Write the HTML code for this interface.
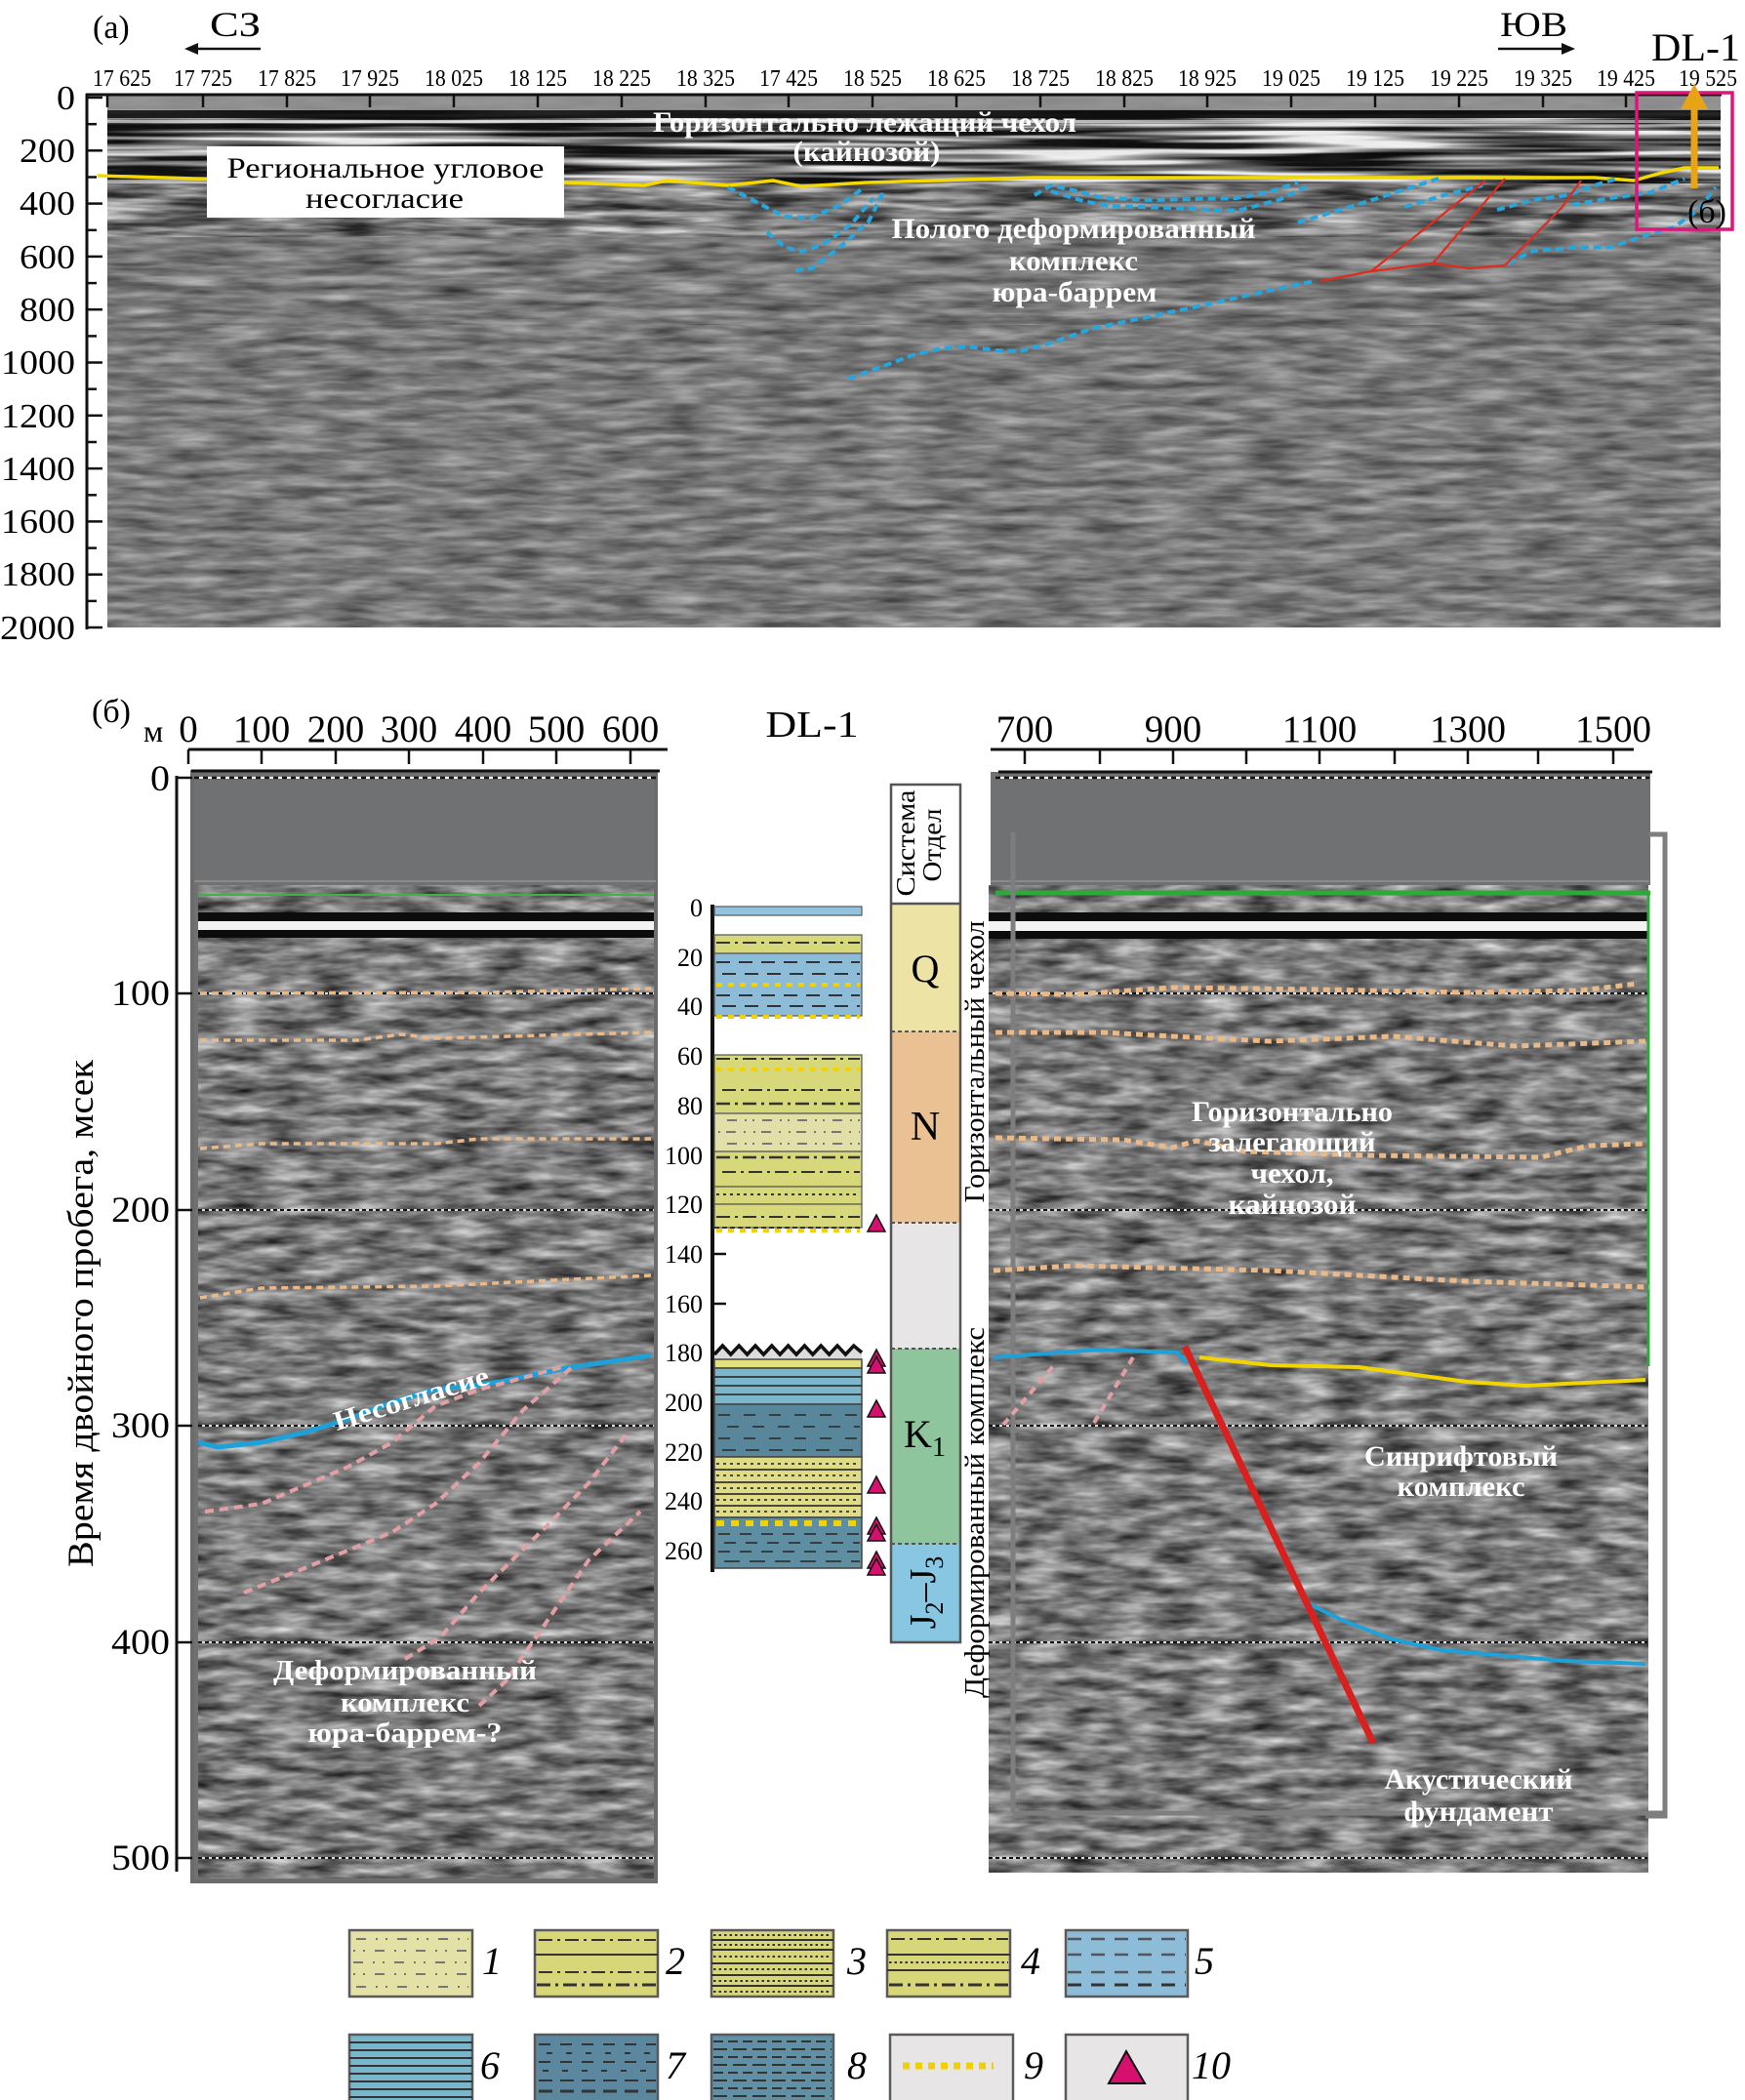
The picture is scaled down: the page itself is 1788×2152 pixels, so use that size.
<!DOCTYPE html>
<html><head><meta charset="utf-8"><style>html,body{margin:0;padding:0;background:#fff}svg{display:block}</style></head>
<body>
<svg width="1788" height="2152" viewBox="0 0 1788 2152" xmlns="http://www.w3.org/2000/svg" font-family="'Liberation Serif', serif">
<defs>
<filter id="nLow" x="0" y="0" width="1" height="1" color-interpolation-filters="sRGB">
<feTurbulence type="fractalNoise" baseFrequency="0.018 0.11" numOctaves="3" seed="5"/>
<feColorMatrix type="matrix" values="0.55 0 0 0 0.205 0.55 0 0 0 0.205 0.55 0 0 0 0.205 0 0 0 0 1"/>
</filter>
<filter id="nBand" x="0" y="0" width="1" height="1" color-interpolation-filters="sRGB">
<feTurbulence type="fractalNoise" baseFrequency="0.004 0.15" numOctaves="2" seed="8"/>
<feColorMatrix type="matrix" values="3 0 0 0 -1.08 3 0 0 0 -1.08 3 0 0 0 -1.08 0 0 0 0 1"/>
</filter>
<filter id="nMid" x="0" y="0" width="1" height="1" color-interpolation-filters="sRGB">
<feTurbulence type="fractalNoise" baseFrequency="0.012 0.12" numOctaves="3" seed="3"/>
<feColorMatrix type="matrix" values="1.7 0 0 0 -0.39 1.7 0 0 0 -0.39 1.7 0 0 0 -0.39 0 0 0 0 1"/>
</filter>
<filter id="nB" x="0" y="0" width="1" height="1" color-interpolation-filters="sRGB">
<feTurbulence type="fractalNoise" baseFrequency="0.022 0.09" numOctaves="3" seed="11"/>
<feColorMatrix type="matrix" values="0.9 0 0 0 0.03 0.9 0 0 0 0.03 0.9 0 0 0 0.03 0 0 0 0 1"/>
</filter>
<filter id="nB2" x="0" y="0" width="1" height="1" color-interpolation-filters="sRGB">
<feTurbulence type="fractalNoise" baseFrequency="0.022 0.09" numOctaves="3" seed="17"/>
<feColorMatrix type="matrix" values="0.9 0 0 0 0.03 0.9 0 0 0 0.03 0.9 0 0 0 0.03 0 0 0 0 1"/>
</filter>
</defs>
<rect width="1788" height="2152" fill="#fff"/>

<!-- ================= PART (a) ================= -->
<text x="95" y="39" font-size="34">(a)</text>
<text x="215" y="37" font-size="36" textLength="52" lengthAdjust="spacingAndGlyphs">СЗ</text>
<line x1="197" y1="50" x2="267" y2="50" stroke="#111" stroke-width="2.5"/>
<polygon points="189,50 203,44 203,56" fill="#111"/>
<text x="1537" y="37" font-size="36" textLength="69" lengthAdjust="spacingAndGlyphs">ЮВ</text>
<line x1="1535" y1="50" x2="1604" y2="50" stroke="#111" stroke-width="2.5"/>
<polygon points="1614,50 1600,44 1600,56" fill="#111"/>
<text x="1692" y="62" font-size="40" textLength="91" lengthAdjust="spacingAndGlyphs">DL-1</text>

<g font-size="24" text-anchor="middle">
<text x="125" y="88" textLength="60" lengthAdjust="spacingAndGlyphs">17 625</text>
<text x="208" y="88" textLength="60" lengthAdjust="spacingAndGlyphs">17 725</text>
<text x="294" y="88" textLength="60" lengthAdjust="spacingAndGlyphs">17 825</text>
<text x="379" y="88" textLength="60" lengthAdjust="spacingAndGlyphs">17 925</text>
<text x="465" y="88" textLength="60" lengthAdjust="spacingAndGlyphs">18 025</text>
<text x="551" y="88" textLength="60" lengthAdjust="spacingAndGlyphs">18 125</text>
<text x="637" y="88" textLength="60" lengthAdjust="spacingAndGlyphs">18 225</text>
<text x="723" y="88" textLength="60" lengthAdjust="spacingAndGlyphs">18 325</text>
<text x="808" y="88" textLength="60" lengthAdjust="spacingAndGlyphs">17 425</text>
<text x="894" y="88" textLength="60" lengthAdjust="spacingAndGlyphs">18 525</text>
<text x="980" y="88" textLength="60" lengthAdjust="spacingAndGlyphs">18 625</text>
<text x="1066" y="88" textLength="60" lengthAdjust="spacingAndGlyphs">18 725</text>
<text x="1152" y="88" textLength="60" lengthAdjust="spacingAndGlyphs">18 825</text>
<text x="1237" y="88" textLength="60" lengthAdjust="spacingAndGlyphs">18 925</text>
<text x="1323" y="88" textLength="60" lengthAdjust="spacingAndGlyphs">19 025</text>
<text x="1409" y="88" textLength="60" lengthAdjust="spacingAndGlyphs">19 125</text>
<text x="1495" y="88" textLength="60" lengthAdjust="spacingAndGlyphs">19 225</text>
<text x="1581" y="88" textLength="60" lengthAdjust="spacingAndGlyphs">19 325</text>
<text x="1666" y="88" textLength="60" lengthAdjust="spacingAndGlyphs">19 425</text>
<text x="1750" y="88" textLength="60" lengthAdjust="spacingAndGlyphs">19 525</text>
</g>

<!-- seismic (a) -->
<rect x="110" y="98" width="1653" height="545" filter="url(#nLow)"/>
<rect x="110" y="112" width="1653" height="76" filter="url(#nBand)" opacity="0.85"/>
<rect x="110" y="188" width="1653" height="55" filter="url(#nMid)" opacity="0.65"/>
<rect x="110" y="243" width="1653" height="90" filter="url(#nMid)" opacity="0.25"/>
<rect x="110" y="98" width="1653" height="15" fill="#939393" opacity="0.85"/>
<rect x="110" y="113" width="1653" height="8" fill="#101010" opacity="0.9"/>
<rect x="110" y="123" width="1653" height="3" fill="#f0f0f0" opacity="0.6"/>
<rect x="110" y="131" width="1653" height="3" fill="#111" opacity="0.5"/>

<!-- axes (a) -->
<line x1="88" y1="97" x2="1764" y2="97" stroke="#111" stroke-width="3"/>
<g stroke="#111" stroke-width="2.5">
<line x1="110" y1="97" x2="110" y2="110"/><line x1="208" y1="97" x2="208" y2="110"/><line x1="294" y1="97" x2="294" y2="110"/><line x1="379" y1="97" x2="379" y2="110"/><line x1="465" y1="97" x2="465" y2="110"/><line x1="551" y1="97" x2="551" y2="110"/><line x1="637" y1="97" x2="637" y2="110"/><line x1="723" y1="97" x2="723" y2="110"/><line x1="808" y1="97" x2="808" y2="110"/><line x1="894" y1="97" x2="894" y2="110"/><line x1="980" y1="97" x2="980" y2="110"/><line x1="1066" y1="97" x2="1066" y2="110"/><line x1="1152" y1="97" x2="1152" y2="110"/><line x1="1237" y1="97" x2="1237" y2="110"/><line x1="1323" y1="97" x2="1323" y2="110"/><line x1="1409" y1="97" x2="1409" y2="110"/><line x1="1495" y1="97" x2="1495" y2="110"/><line x1="1581" y1="97" x2="1581" y2="110"/><line x1="1666" y1="97" x2="1666" y2="110"/>
</g>
<line x1="89" y1="96" x2="89" y2="645" stroke="#111" stroke-width="3"/>
<g stroke="#111" stroke-width="2.5">
<line x1="89" y1="100" x2="105" y2="100"/><line x1="89" y1="154.3" x2="105" y2="154.3"/><line x1="89" y1="208.6" x2="105" y2="208.6"/><line x1="89" y1="262.9" x2="105" y2="262.9"/><line x1="89" y1="317.2" x2="105" y2="317.2"/><line x1="89" y1="371.5" x2="105" y2="371.5"/><line x1="89" y1="425.8" x2="105" y2="425.8"/><line x1="89" y1="480.1" x2="105" y2="480.1"/><line x1="89" y1="534.4" x2="105" y2="534.4"/><line x1="89" y1="588.7" x2="105" y2="588.7"/><line x1="89" y1="643" x2="105" y2="643"/>
<line x1="89" y1="127.2" x2="99" y2="127.2"/><line x1="89" y1="181.5" x2="99" y2="181.5"/><line x1="89" y1="235.8" x2="99" y2="235.8"/><line x1="89" y1="290.1" x2="99" y2="290.1"/><line x1="89" y1="344.4" x2="99" y2="344.4"/><line x1="89" y1="398.7" x2="99" y2="398.7"/><line x1="89" y1="453" x2="99" y2="453"/><line x1="89" y1="507.3" x2="99" y2="507.3"/><line x1="89" y1="561.6" x2="99" y2="561.6"/><line x1="89" y1="615.9" x2="99" y2="615.9"/>
</g>
<g font-size="35" text-anchor="end">
<text x="77" y="112" textLength="19" lengthAdjust="spacingAndGlyphs">0</text>
<text x="77" y="166" textLength="57" lengthAdjust="spacingAndGlyphs">200</text>
<text x="77" y="220" textLength="57" lengthAdjust="spacingAndGlyphs">400</text>
<text x="77" y="275" textLength="57" lengthAdjust="spacingAndGlyphs">600</text>
<text x="77" y="329" textLength="57" lengthAdjust="spacingAndGlyphs">800</text>
<text x="77" y="383" textLength="76" lengthAdjust="spacingAndGlyphs">1000</text>
<text x="77" y="438" textLength="76" lengthAdjust="spacingAndGlyphs">1200</text>
<text x="77" y="492" textLength="76" lengthAdjust="spacingAndGlyphs">1400</text>
<text x="77" y="546" textLength="76" lengthAdjust="spacingAndGlyphs">1600</text>
<text x="77" y="600" textLength="76" lengthAdjust="spacingAndGlyphs">1800</text>
<text x="77" y="655" textLength="77" lengthAdjust="spacingAndGlyphs">2000</text>
</g>

<!-- interpretation lines (a) -->
<polyline points="100,180 200,183 400,185 580,187 660,190 683,185 746,190 792,185 821,191 888,187 1060,182 1634,182 1674,185 1703,177 1726,172 1761,172" fill="none" stroke="#f5d800" stroke-width="3.5"/>
<g fill="none" stroke="#27a5dd" stroke-width="4" stroke-dasharray="8 5">
<polyline points="746,192 775,207 804,222 832,223 861,210 884,193"/>
<polyline points="786,238 804,253 821,258 844,250 872,230 895,203"/>
<polyline points="815,277 832,275 861,253 890,227 905,197"/>
<polyline points="869,388 900,377 935,364 965,357 990,355 1020,359 1045,360 1075,352 1118,337 1175,325 1232,313 1290,300 1347,288"/>
<polyline points="1545,270 1571,257 1610,254 1651,253 1690,240 1715,233 1740,215 1758,192"/>
<polyline points="1060,200 1077,190 1100,195 1130,203 1180,205 1267,203 1300,197 1330,187"/>
<polyline points="1077,196 1110,206 1135,211 1200,213 1267,216 1310,205 1341,190"/>
<polyline points="1330,228 1390,210 1474,183"/>
<polyline points="1439,212 1480,200 1519,190"/>
<polyline points="1534,215 1570,205 1606,200 1640,188 1657,183"/>
<polyline points="1611,210 1650,203 1692,197 1726,183"/>
</g>
<g fill="none" stroke="#e02a1c" stroke-width="2.2">
<polyline points="1353,288 1405,278 1468,270 1505,275 1542,272"/>
<line x1="1405" y1="278" x2="1522" y2="185"/>
<line x1="1468" y1="270" x2="1542" y2="183"/>
<polyline points="1542,272 1600,213 1620,185"/>
</g>

<!-- white box -->
<rect x="212" y="150" width="366" height="73" fill="#fff"/>
<text x="395" y="182" font-size="30" text-anchor="middle" textLength="325" lengthAdjust="spacingAndGlyphs">Региональное угловое</text>
<text x="394" y="213" font-size="30" text-anchor="middle" textLength="162" lengthAdjust="spacingAndGlyphs">несогласие</text>

<g fill="#fff" font-weight="bold" font-size="30" text-anchor="middle">
<text x="886" y="135" textLength="434" lengthAdjust="spacingAndGlyphs">Горизонтально лежащий чехол</text>
<text x="888" y="165" textLength="151" lengthAdjust="spacingAndGlyphs">(кайнозой)</text>
<text x="1100" y="244" textLength="373" lengthAdjust="spacingAndGlyphs">Полого деформированный</text>
<text x="1100" y="277" textLength="132" lengthAdjust="spacingAndGlyphs">комплекс</text>
<text x="1101" y="309" textLength="169" lengthAdjust="spacingAndGlyphs">юра-баррем</text>
</g>

<rect x="1677" y="95" width="98" height="140" fill="none" stroke="#e0157a" stroke-width="3.5"/>
<line x1="1736" y1="193" x2="1736" y2="106" stroke="#e8a317" stroke-width="7"/>
<polygon points="1722,112 1750,112 1736,86" fill="#e8a317"/>
<text x="1729" y="228" font-size="34">(б)</text>

<!-- ================= PART (б) ================= -->
<text x="94" y="740" font-size="34">(б)</text>
<text x="147" y="760" font-size="32">м</text>
<g font-size="39" text-anchor="middle">
<text x="193" y="760">0</text>
<text x="268" y="760">100</text>
<text x="344" y="760">200</text>
<text x="419" y="760">300</text>
<text x="495" y="760">400</text>
<text x="570" y="760">500</text>
<text x="646" y="760">600</text>
<text x="1050" y="760">700</text>
<text x="1202" y="760">900</text>
<text x="1352" y="760">1100</text>
<text x="1504" y="760">1300</text>
<text x="1653" y="760">1500</text>
</g>
<line x1="193" y1="768" x2="684" y2="768" stroke="#111" stroke-width="3"/>
<line x1="1015" y1="768" x2="1674" y2="768" stroke="#111" stroke-width="3"/>
<g stroke="#111" stroke-width="2.5">
<line x1="193" y1="768" x2="193" y2="783"/><line x1="268" y1="768" x2="268" y2="783"/><line x1="344" y1="768" x2="344" y2="783"/><line x1="419" y1="768" x2="419" y2="783"/><line x1="495" y1="768" x2="495" y2="783"/><line x1="570" y1="768" x2="570" y2="783"/><line x1="646" y1="768" x2="646" y2="783"/>
<line x1="1050" y1="768" x2="1050" y2="783"/><line x1="1127" y1="768" x2="1127" y2="783"/><line x1="1202" y1="768" x2="1202" y2="783"/><line x1="1277" y1="768" x2="1277" y2="783"/><line x1="1352" y1="768" x2="1352" y2="783"/><line x1="1429" y1="768" x2="1429" y2="783"/><line x1="1504" y1="768" x2="1504" y2="783"/><line x1="1576" y1="768" x2="1576" y2="783"/><line x1="1653" y1="768" x2="1653" y2="783"/>
</g>
<text x="832" y="755" font-size="38" text-anchor="middle" textLength="95" lengthAdjust="spacingAndGlyphs">DL-1</text>

<!-- Left panel -->
<rect x="197" y="791" width="475" height="1137" fill="#707173" stroke="#6b6b6b" stroke-width="4"/>
<rect x="203" y="907" width="467" height="1018" filter="url(#nB)"/>
<line x1="196" y1="790" x2="676" y2="790" stroke="#111" stroke-width="3"/>
<line x1="199" y1="797" x2="672" y2="797" stroke="#fff" stroke-width="2"/>
<line x1="199" y1="797" x2="672" y2="797" stroke="#111" stroke-width="2.5" stroke-dasharray="5 4"/>
<line x1="199" y1="903" x2="672" y2="903" stroke="#8a8a8a" stroke-width="2"/>
<line x1="203" y1="917" x2="670" y2="917" stroke="#3bb34a" stroke-width="2"/>
<rect x="203" y="935" width="467" height="9" fill="#0c0c0c"/>
<rect x="203" y="944" width="467" height="9" fill="#f2f2f2"/>
<rect x="203" y="953" width="467" height="8" fill="#0c0c0c"/>

<!-- Right panel -->
<rect x="1015" y="791" width="676" height="116" fill="#707173"/>
<rect x="1013" y="907" width="676" height="1012" filter="url(#nB2)"/>
<line x1="1023" y1="791" x2="1693" y2="791" stroke="#111" stroke-width="3"/>
<line x1="1020" y1="797" x2="1690" y2="797" stroke="#fff" stroke-width="2"/>
<line x1="1020" y1="797" x2="1690" y2="797" stroke="#111" stroke-width="2.5" stroke-dasharray="5 4"/>
<line x1="1015" y1="903" x2="1690" y2="903" stroke="#8a8a8a" stroke-width="2"/>
<rect x="1013" y="935" width="676" height="9" fill="#0c0c0c"/>
<rect x="1013" y="944" width="676" height="10" fill="#f2f2f2"/>
<rect x="1013" y="954" width="676" height="8" fill="#0c0c0c"/>
<line x1="1020" y1="915" x2="1691" y2="915" stroke="#2eaa3a" stroke-width="5"/>
<line x1="1689" y1="913" x2="1689" y2="1400" stroke="#2eaa3a" stroke-width="3"/>

<!-- dotted time lines -->
<g stroke-width="2">
<g stroke="#ddd"><line x1="203" y1="1018" x2="670" y2="1018"/><line x1="203" y1="1240" x2="670" y2="1240"/><line x1="203" y1="1461" x2="670" y2="1461"/><line x1="203" y1="1683" x2="670" y2="1683"/><line x1="203" y1="1904" x2="670" y2="1904"/>
<line x1="1013" y1="1018" x2="1688" y2="1018"/><line x1="1013" y1="1240" x2="1688" y2="1240"/><line x1="1013" y1="1461" x2="1688" y2="1461"/><line x1="1013" y1="1683" x2="1688" y2="1683"/><line x1="1013" y1="1904" x2="1688" y2="1904"/></g>
<g stroke="#111" stroke-dasharray="4 3"><line x1="203" y1="1018" x2="670" y2="1018"/><line x1="203" y1="1240" x2="670" y2="1240"/><line x1="203" y1="1461" x2="670" y2="1461"/><line x1="203" y1="1683" x2="670" y2="1683"/><line x1="203" y1="1904" x2="670" y2="1904"/>
<line x1="1013" y1="1018" x2="1688" y2="1018"/><line x1="1013" y1="1240" x2="1688" y2="1240"/><line x1="1013" y1="1461" x2="1688" y2="1461"/><line x1="1013" y1="1683" x2="1688" y2="1683"/><line x1="1013" y1="1904" x2="1688" y2="1904"/></g>
</g>

<!-- gray bracket -->
<g fill="none" stroke="#7e7e7e" stroke-width="5">
<line x1="1038" y1="853" x2="1038" y2="1858"/>
<line x1="1038" y1="1858" x2="1706" y2="1858"/>
<polyline points="1690,855 1706,855 1706,1861 1686,1861"/>
</g>

<!-- orange dashed lines -->
<g fill="none" stroke="#e9b98a" stroke-width="3.5" stroke-dasharray="7 5">
<polyline points="205,1018 500,1017 667,1013"/>
<polyline points="205,1066 366,1066 411,1060 446,1064 667,1058"/>
<polyline points="205,1177 268,1172 446,1172 491,1167 667,1167"/>
<polyline points="205,1330 268,1320 446,1318 667,1307"/>
</g>
<g fill="none" stroke="#e9b98a" stroke-width="5" stroke-dasharray="7 5">
<polyline points="1020,1018 1100,1019 1201,1012 1350,1014 1500,1017 1620,1015 1678,1008"/>
<polyline points="1020,1058 1130,1058 1201,1062 1302,1067 1427,1062 1553,1072 1686,1067"/>
<polyline points="1020,1166 1150,1168 1201,1176 1226,1169 1276,1180 1402,1184 1578,1186 1628,1174 1686,1172"/>
<polyline points="1018,1302 1100,1297 1302,1302 1503,1313 1690,1319"/>
</g>

<!-- left panel interpretation -->
<polyline points="203,1478 223,1483 268,1478 312,1468 357,1454 402,1437 446,1424 513,1416 580,1402 667,1389" fill="none" stroke="#1ea0d8" stroke-width="5"/>
<g fill="none" stroke="#e3a0a4" stroke-width="4" stroke-dasharray="9 6">
<polyline points="210,1549 268,1541 357,1503 402,1478 446,1441 491,1424 580,1400"/>
<polyline points="250,1632 312,1607 402,1570 446,1541 491,1499 536,1445 585,1402"/>
<polyline points="415,1700 451,1678 491,1632 558,1566 603,1520 643,1468"/>
<polyline points="491,1748 518,1723 558,1665 603,1599 656,1549"/>
</g>
<text transform="translate(424,1442) rotate(-17)" fill="#fff" font-weight="bold" font-size="28" text-anchor="middle" textLength="165" lengthAdjust="spacingAndGlyphs">Несогласие</text>
<g fill="#fff" font-weight="bold" font-size="28" text-anchor="middle">
<text x="415" y="1721" textLength="270" lengthAdjust="spacingAndGlyphs">Деформированный</text>
<text x="415" y="1754" textLength="132" lengthAdjust="spacingAndGlyphs">комплекс</text>
<text x="415" y="1785" textLength="199" lengthAdjust="spacingAndGlyphs">юра-баррем-?</text>
</g>

<!-- right panel interpretation -->
<polyline points="1018,1391 1126,1383 1206,1386 1216,1397" fill="none" stroke="#1ea0d8" stroke-width="4"/>
<polyline points="1229,1391 1302,1399 1392,1401 1503,1416 1563,1420 1686,1414" fill="none" stroke="#f2d500" stroke-width="4"/>
<polyline points="1342,1644 1377,1661 1427,1680 1477,1691 1603,1702 1686,1705" fill="none" stroke="#1ea0d8" stroke-width="4"/>
<line x1="1214" y1="1380" x2="1407" y2="1786" stroke="#d8201e" stroke-width="7"/>
<g stroke="#e3a0a4" stroke-width="4" stroke-dasharray="8 6">
<line x1="1028" y1="1460" x2="1080" y2="1399"/>
<line x1="1121" y1="1458" x2="1161" y2="1391"/>
</g>
<g fill="#fff" font-weight="bold" font-size="30" text-anchor="middle">
<text x="1324" y="1149" textLength="206" lengthAdjust="spacingAndGlyphs">Горизонтально</text>
<text x="1324" y="1180" textLength="171" lengthAdjust="spacingAndGlyphs">залегающий</text>
<text x="1324" y="1212" textLength="85" lengthAdjust="spacingAndGlyphs">чехол,</text>
<text x="1324" y="1244" textLength="131" lengthAdjust="spacingAndGlyphs">кайнозой</text>
<text x="1497" y="1502" textLength="198" lengthAdjust="spacingAndGlyphs">Синрифтовый</text>
<text x="1497" y="1533" textLength="131" lengthAdjust="spacingAndGlyphs">комплекс</text>
<text x="1515" y="1833" textLength="193" lengthAdjust="spacingAndGlyphs">Акустический</text>
<text x="1515" y="1866" textLength="153" lengthAdjust="spacingAndGlyphs">фундамент</text>
</g>

<!-- Y axis (б) -->
<line x1="181" y1="795" x2="181" y2="1918" stroke="#111" stroke-width="3"/>
<g stroke="#111" stroke-width="2.5">
<line x1="181" y1="797" x2="197" y2="797"/><line x1="181" y1="1018" x2="197" y2="1018"/><line x1="181" y1="1240" x2="197" y2="1240"/><line x1="181" y1="1461" x2="197" y2="1461"/><line x1="181" y1="1683" x2="197" y2="1683"/><line x1="181" y1="1904" x2="197" y2="1904"/>
</g>
<g font-size="37" text-anchor="end">
<text x="174" y="810" textLength="20" lengthAdjust="spacingAndGlyphs">0</text>
<text x="174" y="1030" textLength="60" lengthAdjust="spacingAndGlyphs">100</text>
<text x="174" y="1252" textLength="60" lengthAdjust="spacingAndGlyphs">200</text>
<text x="174" y="1473" textLength="60" lengthAdjust="spacingAndGlyphs">300</text>
<text x="174" y="1695" textLength="60" lengthAdjust="spacingAndGlyphs">400</text>
<text x="174" y="1916" textLength="60" lengthAdjust="spacingAndGlyphs">500</text>
</g>
<text transform="translate(95,1346) rotate(-90)" font-size="37" text-anchor="middle" textLength="520" lengthAdjust="spacingAndGlyphs">Время двойного пробега, мсек</text>

<!-- depth axis -->
<line x1="730" y1="927" x2="730" y2="1611" stroke="#111" stroke-width="4"/>
<g stroke="#111" stroke-width="2.5">
<line x1="730" y1="930" x2="744" y2="930"/><line x1="730" y1="981" x2="744" y2="981"/><line x1="730" y1="1031" x2="744" y2="1031"/><line x1="730" y1="1082" x2="744" y2="1082"/><line x1="730" y1="1133" x2="744" y2="1133"/><line x1="730" y1="1184" x2="744" y2="1184"/><line x1="730" y1="1234" x2="744" y2="1234"/><line x1="730" y1="1285" x2="744" y2="1285"/><line x1="730" y1="1336" x2="744" y2="1336"/><line x1="730" y1="1386" x2="744" y2="1386"/><line x1="730" y1="1437" x2="744" y2="1437"/><line x1="730" y1="1488" x2="744" y2="1488"/><line x1="730" y1="1538" x2="744" y2="1538"/><line x1="730" y1="1589" x2="744" y2="1589"/>
</g>
<g font-size="26" text-anchor="end">
<text x="720" y="939">0</text><text x="720" y="990">20</text><text x="720" y="1040">40</text><text x="720" y="1091">60</text><text x="720" y="1142">80</text><text x="720" y="1193">100</text><text x="720" y="1243">120</text><text x="720" y="1294">140</text><text x="720" y="1345">160</text><text x="720" y="1395">180</text><text x="720" y="1446">200</text><text x="720" y="1497">220</text><text x="720" y="1547">240</text><text x="720" y="1598">260</text>
</g>

<!-- litho column -->
<g stroke="#555" stroke-width="1.2">
<rect x="732" y="929" width="151" height="9" fill="#93c3df"/>
<rect x="732" y="958" width="151" height="19" fill="#d6d87a"/>
<rect x="732" y="977" width="151" height="64" fill="#8cbcd8"/>
<rect x="732" y="1081" width="151" height="60" fill="#d6d87a"/>
<rect x="732" y="1141" width="151" height="39" fill="#e2dfa8"/>
<rect x="732" y="1180" width="151" height="36" fill="#d6d87a"/>
<rect x="732" y="1216" width="151" height="18" fill="#d6d87a"/>
<rect x="732" y="1234" width="151" height="24" fill="#d6d87a"/>
</g>
<g fill="none" stroke="#333" stroke-width="2">
<line x1="734" y1="966" x2="881" y2="966" stroke-dasharray="14 5 3 5"/>
<line x1="734" y1="986" x2="881" y2="986" stroke-dasharray="14 9"/>
<line x1="740" y1="998" x2="881" y2="998" stroke-dasharray="14 9"/>
<line x1="734" y1="1020" x2="881" y2="1020" stroke-dasharray="14 9"/>
<line x1="740" y1="1031" x2="881" y2="1031" stroke-dasharray="14 9"/>
<line x1="734" y1="1085" x2="881" y2="1085" stroke-dasharray="14 5 3 5"/>
<line x1="740" y1="1117" x2="881" y2="1117" stroke-dasharray="14 5 3 5"/>
<line x1="734" y1="1131" x2="881" y2="1131" stroke-dasharray="14 5 3 5" stroke-width="2.6"/>
<line x1="745" y1="1148" x2="881" y2="1148" stroke="#777" stroke-dasharray="10 8 2 6 2 8"/>
<line x1="736" y1="1160" x2="881" y2="1160" stroke="#777" stroke-dasharray="2 6 10 8 2 8"/>
<line x1="745" y1="1172" x2="881" y2="1172" stroke="#777" stroke-dasharray="10 8 2 6 2 8"/>
<line x1="734" y1="1186" x2="881" y2="1186" stroke-dasharray="14 5 3 5" stroke-width="2.4"/>
<line x1="740" y1="1201" x2="881" y2="1201" stroke-dasharray="14 5 3 5"/>
<line x1="734" y1="1224" x2="881" y2="1224" stroke-dasharray="3 4"/>
<line x1="734" y1="1247" x2="881" y2="1247" stroke-dasharray="14 5 3 5"/>
<line x1="732" y1="1258" x2="883" y2="1258" stroke-dasharray="5 3"/>
</g>
<g fill="none" stroke="#f2d200" stroke-width="4" stroke-dasharray="6 6">
<line x1="734" y1="1009" x2="881" y2="1009"/>
<line x1="734" y1="1042" x2="881" y2="1042"/>
<line x1="734" y1="1096" x2="881" y2="1096"/>
<line x1="734" y1="1261" x2="881" y2="1261"/>
</g>
<polygon points="732,1388 740.4,1379 748.8,1388 757.2,1379 765.6,1388 774,1379 782.4,1388 790.8,1379 799.2,1388 807.6,1379 816,1388 824.4,1379 832.8,1388 841.2,1379 849.6,1388 858,1379 866.4,1388 874.8,1379 883,1386 883,1393 732,1393" fill="#dcdcdc"/>
<polyline points="732,1388 740.4,1379 748.8,1388 757.2,1379 765.6,1388 774,1379 782.4,1388 790.8,1379 799.2,1388 807.6,1379 816,1388 824.4,1379 832.8,1388 841.2,1379 849.6,1388 858,1379 866.4,1388 874.8,1379 883,1386" fill="none" stroke="#111" stroke-width="3.5"/>
<g stroke="#444" stroke-width="1.5">
<rect x="732" y="1393" width="151" height="9" fill="#e3e07e"/>
<rect x="732" y="1402" width="151" height="37" fill="#7ab7cc"/>
<rect x="732" y="1439" width="151" height="54" fill="#58879c"/>
<rect x="732" y="1493" width="151" height="62" fill="#e0dc85"/>
<rect x="732" y="1555" width="151" height="52" fill="#5e8ea2"/>
</g>
<g fill="none" stroke="#333" stroke-width="1.8">
<line x1="732" y1="1411" x2="883" y2="1411"/><line x1="732" y1="1420" x2="883" y2="1420"/><line x1="732" y1="1429" x2="883" y2="1429"/>
<line x1="736" y1="1450" x2="881" y2="1450" stroke-dasharray="12 14"/>
<line x1="745" y1="1462" x2="881" y2="1462" stroke-dasharray="12 14"/>
<line x1="736" y1="1474" x2="881" y2="1474" stroke-dasharray="12 14"/>
<line x1="740" y1="1486" x2="881" y2="1486" stroke-dasharray="14 10"/>
<line x1="732" y1="1506" x2="883" y2="1506"/><line x1="732" y1="1519" x2="883" y2="1519"/><line x1="732" y1="1531" x2="883" y2="1531"/><line x1="732" y1="1543" x2="883" y2="1543"/>
<line x1="734" y1="1500" x2="881" y2="1500" stroke-dasharray="3 4"/><line x1="734" y1="1512" x2="881" y2="1512" stroke-dasharray="3 4"/><line x1="734" y1="1525" x2="881" y2="1525" stroke-dasharray="3 4"/><line x1="734" y1="1537" x2="881" y2="1537" stroke-dasharray="3 4"/><line x1="734" y1="1549" x2="881" y2="1549" stroke-dasharray="3 4"/>
<line x1="736" y1="1572" x2="881" y2="1572" stroke-dasharray="12 10"/>
<line x1="742" y1="1581" x2="881" y2="1581" stroke-dasharray="12 10"/>
<line x1="736" y1="1590" x2="881" y2="1590" stroke-dasharray="12 10"/>
<line x1="742" y1="1600" x2="881" y2="1600" stroke-dasharray="16 10"/>
</g>
<line x1="734" y1="1561" x2="881" y2="1561" stroke="#f2d200" stroke-width="6" stroke-dasharray="8 7"/>

<!-- triangles -->
<g fill="#d6106f" stroke="#111" stroke-width="1.5">
<polygon points="898,1245 889,1262 907,1262"/>
<polygon points="898,1383 889,1400 907,1400"/><polygon points="898,1390 889,1407 907,1407"/>
<polygon points="898,1435 889,1452 907,1452"/>
<polygon points="898,1513 889,1530 907,1530"/>
<polygon points="898,1555 889,1572 907,1572"/><polygon points="898,1562 889,1579 907,1579"/>
<polygon points="898,1590 889,1607 907,1607"/><polygon points="898,1597 889,1614 907,1614"/>
</g>

<!-- strat column -->
<rect x="913" y="804" width="71" height="122" fill="#fff"/>
<rect x="913" y="926" width="71" height="131" fill="#ece3a4"/>
<rect x="913" y="1057" width="71" height="196" fill="#e9c192"/>
<rect x="913" y="1253" width="71" height="129" fill="#e7e5e6"/>
<rect x="913" y="1382" width="71" height="200" fill="#8fc59d"/>
<rect x="913" y="1582" width="71" height="101" fill="#88c6e2"/>
<line x1="913" y1="926" x2="984" y2="926" stroke="#555" stroke-width="2.5"/>
<g stroke="#555" stroke-width="2" stroke-dasharray="4 3">
<line x1="913" y1="1057" x2="984" y2="1057"/><line x1="913" y1="1253" x2="984" y2="1253"/><line x1="913" y1="1382" x2="984" y2="1382"/><line x1="913" y1="1582" x2="984" y2="1582"/>
</g>
<rect x="913" y="804" width="71" height="879" fill="none" stroke="#555" stroke-width="2.5"/>
<text transform="translate(937,864) rotate(-90)" font-size="27" text-anchor="middle" textLength="109" lengthAdjust="spacingAndGlyphs">Система</text>
<text transform="translate(964,866) rotate(-90)" font-size="27" text-anchor="middle" textLength="75" lengthAdjust="spacingAndGlyphs">Отдел</text>
<text x="948" y="1006" font-size="40" text-anchor="middle">Q</text>
<text x="948" y="1168" font-size="42" text-anchor="middle">N</text>
<text x="926" y="1483" font-size="40">K</text><text x="955" y="1492" font-size="28">1</text>
<text transform="translate(958,1632) rotate(-90)" font-size="38" text-anchor="middle">J<tspan font-size="26" dy="8">2</tspan><tspan dy="-8">–J</tspan><tspan font-size="26" dy="8">3</tspan></text>
<text transform="translate(1008,1088) rotate(-90)" font-size="28" text-anchor="middle" textLength="289" lengthAdjust="spacingAndGlyphs">Горизонтальный чехол</text>
<text transform="translate(1008,1550) rotate(-90)" font-size="28" text-anchor="middle" textLength="380" lengthAdjust="spacingAndGlyphs">Деформированный комплекс</text>

<!-- ================= LEGEND ================= -->
<g stroke="#5a5a5a" stroke-width="2.5">
<rect x="358" y="1978" width="126" height="68" fill="#e3e1a6"/>
<rect x="548" y="1978" width="126" height="68" fill="#d7d77a"/>
<rect x="729" y="1978" width="125" height="68" fill="#d7d77a"/>
<rect x="909" y="1978" width="126" height="68" fill="#d7d77a"/>
<rect x="1092" y="1978" width="125" height="68" fill="#8dbcd9"/>
<rect x="358" y="2085" width="126" height="70" fill="#78b6cc"/>
<rect x="548" y="2085" width="126" height="70" fill="#5b889e"/>
<rect x="729" y="2085" width="125" height="70" fill="#6190a4"/>
<rect x="912" y="2085" width="126" height="70" fill="#e7e5e6"/>
<rect x="1092" y="2085" width="125" height="70" fill="#e7e5e6"/>
</g>
<g fill="none" stroke-width="2">
<g stroke="#777">
<line x1="365" y1="1987" x2="480" y2="1987" stroke-dasharray="10 10 2 8 2 10"/>
<line x1="362" y1="1999" x2="480" y2="1999" stroke-dasharray="2 8 2 10 10 10"/>
<line x1="362" y1="2011" x2="480" y2="2011" stroke-dasharray="10 10 2 8 2 10"/>
<line x1="362" y1="2023" x2="480" y2="2023" stroke-dasharray="2 8 2 10 10 10"/>
<line x1="365" y1="2036" x2="480" y2="2036" stroke-dasharray="10 10 2 8 2 10"/>
</g>
<g stroke="#333">
<line x1="552" y1="1988" x2="672" y2="1988" stroke-dasharray="14 5 3 5"/>
<line x1="548" y1="2003" x2="674" y2="2003"/>
<line x1="552" y1="2003" x2="672" y2="2003" stroke-dasharray="14 5 3 5"/>
<line x1="552" y1="2021" x2="672" y2="2021" stroke-dasharray="14 5 3 5"/>
<line x1="550" y1="2034" x2="672" y2="2034" stroke-dasharray="14 5 3 5" stroke-width="3"/>
<line x1="729" y1="1988" x2="854" y2="1988"/><line x1="729" y1="1998" x2="854" y2="1998"/><line x1="729" y1="2012" x2="854" y2="2012"/><line x1="729" y1="2024" x2="854" y2="2024"/><line x1="729" y1="2035" x2="854" y2="2035"/>
<line x1="731" y1="1983" x2="852" y2="1983" stroke-dasharray="2.5 3"/><line x1="731" y1="1993" x2="852" y2="1993" stroke-dasharray="2.5 3"/><line x1="731" y1="2005" x2="852" y2="2005" stroke-dasharray="2.5 3"/><line x1="731" y1="2018" x2="852" y2="2018" stroke-dasharray="2.5 3"/><line x1="731" y1="2030" x2="852" y2="2030" stroke-dasharray="2.5 3"/><line x1="731" y1="2041" x2="852" y2="2041" stroke-dasharray="2.5 3"/>
<line x1="913" y1="1987" x2="1033" y2="1987" stroke-dasharray="14 5 3 5"/>
<line x1="909" y1="2003" x2="1035" y2="2003"/>
<line x1="911" y1="2011" x2="1033" y2="2011" stroke-dasharray="2.5 3"/>
<line x1="909" y1="2019" x2="1035" y2="2019"/>
<line x1="911" y1="2034" x2="1033" y2="2034" stroke-dasharray="14 5 3 5" stroke-width="3"/>
</g>
<g stroke="#555" stroke-width="2.5">
<line x1="1094" y1="1987" x2="1215" y2="1987" stroke-dasharray="14 10"/>
<line x1="1094" y1="2003" x2="1215" y2="2003" stroke-dasharray="14 10"/>
<line x1="1094" y1="2021" x2="1215" y2="2021" stroke-dasharray="14 10"/>
<line x1="1094" y1="2034" x2="1215" y2="2034" stroke-dasharray="14 10" stroke="#333" stroke-width="3"/>
</g>
<g stroke="#333">
<line x1="358" y1="2093" x2="484" y2="2093"/><line x1="358" y1="2101" x2="484" y2="2101"/><line x1="358" y1="2109" x2="484" y2="2109"/><line x1="358" y1="2117" x2="484" y2="2117"/><line x1="358" y1="2125" x2="484" y2="2125"/><line x1="358" y1="2133" x2="484" y2="2133"/><line x1="358" y1="2141" x2="484" y2="2141"/><line x1="358" y1="2149" x2="484" y2="2149"/>
<line x1="552" y1="2095" x2="672" y2="2095" stroke-dasharray="12 10"/>
<line x1="560" y1="2104" x2="672" y2="2104" stroke-dasharray="6 14"/>
<line x1="552" y1="2113" x2="672" y2="2113" stroke-dasharray="12 10"/>
<line x1="556" y1="2122" x2="672" y2="2122" stroke-dasharray="6 14"/>
<line x1="552" y1="2132" x2="672" y2="2132" stroke-dasharray="14 8"/>
<line x1="552" y1="2143" x2="672" y2="2143" stroke-dasharray="14 8" stroke-width="3"/>
<line x1="731" y1="2092" x2="852" y2="2092" stroke-dasharray="10 5"/>
<line x1="731" y1="2100" x2="852" y2="2100" stroke-dasharray="14 6"/>
<line x1="731" y1="2108" x2="852" y2="2108" stroke-dasharray="10 5"/>
<line x1="731" y1="2116" x2="852" y2="2116" stroke-dasharray="14 6"/>
<line x1="731" y1="2124" x2="852" y2="2124" stroke-dasharray="10 5"/>
<line x1="731" y1="2132" x2="852" y2="2132" stroke-dasharray="14 6"/>
<line x1="731" y1="2140" x2="852" y2="2140" stroke-dasharray="10 5"/>
<line x1="731" y1="2148" x2="852" y2="2148" stroke-dasharray="14 6"/>
</g>
</g>
<line x1="925" y1="2117" x2="1018" y2="2117" stroke="#f2d000" stroke-width="7" stroke-dasharray="7 6"/>
<polygon points="1154,2102 1136,2135 1173,2135" fill="#d6106f" stroke="#111" stroke-width="2"/>
<g font-size="40" font-style="italic">
<text x="494" y="2023">1</text><text x="682" y="2023">2</text><text x="868" y="2023">3</text><text x="1046" y="2023">4</text><text x="1224" y="2023">5</text>
<text x="492" y="2130">6</text><text x="682" y="2130">7</text><text x="868" y="2130">8</text><text x="1049" y="2130">9</text><text x="1221" y="2130">10</text>
</g>
</svg>
</body></html>
